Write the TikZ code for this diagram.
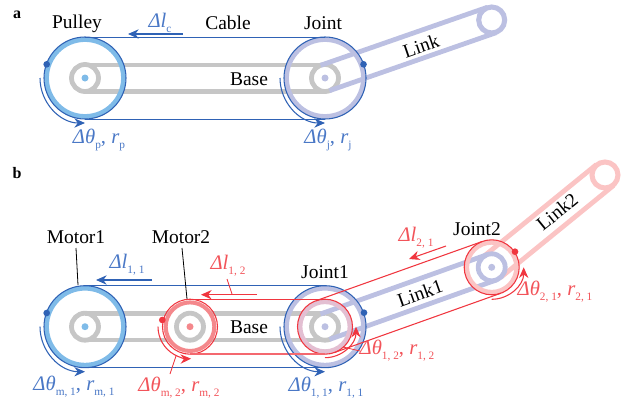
\documentclass[tikz,border=0pt]{standalone}
\usepackage{fontspec}
\setmainfont{Liberation Serif}
\usetikzlibrary{calc,arrows.meta}
\definecolor{cblue}{HTML}{2F62B5}
\definecolor{tblue}{HTML}{4A78C6}
\definecolor{lblue}{HTML}{7FBBE8}
\definecolor{lilac}{HTML}{BCC0E2}
\definecolor{gre}{HTML}{C6C6C6}
\definecolor{cred}{HTML}{F0363F}
\definecolor{tred}{HTML}{F2545A}
\definecolor{lred}{HTML}{F4888C}
\definecolor{pinkl}{HTML}{FBC4C4}
\definecolor{mauve}{HTML}{E3BFD2}
\newcommand{\lowtxt}[1]{\raisebox{-0.5ex}{\fontsize{8.5}{10}\selectfont #1}}
\newcommand{\dtheta}{\textit{Δθ}}
\newcommand{\dell}{\textit{Δl}}
\tikzset{
 x=0.75pt,y=-0.75pt,
 lab/.style={font=\fontsize{14.6}{16}\selectfont,inner sep=0pt,text=black},
 tb/.style={font=\fontsize{15.5}{17}\selectfont,inner sep=0pt,text=tblue},
 tr/.style={font=\fontsize{15.5}{17}\selectfont,inner sep=0pt,text=tred},
 panel/.style={font=\fontsize{12}{14}\selectfont\bfseries,inner sep=0pt},
 rail/.style={line width=3.6pt,gre},
 lrail/.style={line width=3.6pt,lilac},
 prail/.style={line width=3.6pt,pinkl},
 bcab/.style={line width=0.8pt,cblue},
 rcab/.style={line width=0.8pt,cred},
 barrow/.style={line width=0.8pt,cblue,-{Stealth[length=8pt,width=7pt]}},
 rarrow/.style={line width=0.8pt,cred,-{Stealth[length=8pt,width=7pt]}},
 leader/.style={line width=0.6pt,black},
 bdot/.style={circle,fill=cblue,inner sep=0pt,minimum size=5pt},
 rdot/.style={circle,fill=cred,inner sep=0pt,minimum size=5pt},
}
\begin{document}
\begin{tikzpicture}
\useasboundingbox (0,0) rectangle (624,407);
% ---------- panel a
\coordinate (P) at (85,78);
\coordinate (J) at (325,78);
\coordinate (E) at (491.7,20);
\draw[rail] (85,65) -- (325,65) (85,91.5) -- (325,91.5);
\draw[rail] (P) circle (13.5);
\draw[rail] (J) circle (13.5);
\fill[lblue] (P) circle (3.5);
\fill[lilac] (J) circle (3.5);
\draw[lrail] ($(J)+(-4.4,-12.7)$) -- ($(E)+(-4.4,-12.7)$);
\draw[lrail] ($(J)+(4.4,12.7)$) -- ($(E)+(4.4,12.7)$);
\draw[line width=3.8pt,lilac,fill=white] (E) circle (13);
\draw[line width=3.6pt,lblue] (P) circle (38.5);
\draw[line width=3.6pt,lilac] (J) circle (38.5);
\draw[bcab] (85,37.5) -- (325,37.5);
\draw[bcab] (P) circle (41);
\draw[bcab] (J) circle (41);
\draw[bcab] (85,119.5) -- (325,119.5);
\node[bdot] (pd) at (46.7,64.3) {};
\node[bdot] (jd) at (363.5,64.3) {};
\draw[barrow] ($(P)+(180:45)$) arc (180:90:45);
\draw[barrow] ($(J)+(180:45)$) arc (180:90:45);
\coordinate (a1) at (183,34);
\coordinate (a2) at (128,34);
\draw[barrow] (a1) -- (a2);
\node[panel] (pa) at (17,15) {a};
\node[lab] (tPulley) at (77,24) {Pulley};
\node[lab] (tCable) at (228,23) {Cable};
\node[lab] (tJoint) at (323,23) {Joint};
\node[lab] (tBase) at (249,79) {Base};
\node[lab,rotate=19] (tLink) at (421,46) {Link};
\node[tb] (tdlc) at (160,23) {\dell\lowtxt{c}};
\node[tb] (tdp) at (99,140) {\dtheta\lowtxt{p}, \textit{r}\lowtxt{p}};
\node[tb] (tdj) at (328,140) {\dtheta\lowtxt{j}, \textit{r}\lowtxt{j}};
% ---------- panel b
\coordinate (M1) at (85,326.7);
\coordinate (M2) at (190,326.7);
\coordinate (J1) at (325,326.7);
\coordinate (J2) at (491.7,267.3);
\coordinate (E2) at (605,175);
\draw[rail] (85,313.5) -- (325,313.5) (85,340) -- (325,340);
\draw[rail] (M1) circle (13.5);
\draw[rail] (J1) circle (13.5);
\fill[lblue] (M1) circle (3.5);
\fill[lilac] (J1) circle (3.5);
\fill[white] (M2) circle (25);
\draw[rail] (M2) circle (13.5);
\fill[lred] (M2) circle (3.5);
% link 2
\draw[prail] ($(J2)+(-8.5,-10.5)$) -- ($(E2)+(-8.5,-10.5)$);
\draw[prail] ($(J2)+(8.5,10.5)$) -- ($(E2)+(8.5,10.5)$);
\draw[line width=3.8pt,pinkl,fill=white] (E2) circle (13);
% link 1
\draw[lrail] ($(J1)+(-4.5,-12.7)$) -- ($(J2)+(-4.5,-12.7)$);
\draw[lrail] ($(J1)+(4.5,12.7)$) -- ($(J2)+(4.5,12.7)$);
\draw[lrail] (J2) circle (13.5);
\fill[lilac] (J2) circle (3.5);
\draw[line width=3.6pt,lblue] (M1) circle (38.5);
\draw[line width=3.6pt,lilac] (J1) circle (38.5);
\draw[line width=3.6pt,mauve] (J1) circle (25);
\draw[line width=3pt,lred] (M2) circle (24.3);
\draw[line width=3.6pt,pinkl] (J2) circle (25);
% cables
\draw[bcab] (M1) circle (41);
\draw[bcab] (J1) circle (41);
\draw[bcab] (85,285.5) -- (325,285.5);
\draw[bcab] (85,367.7) -- (325,367.7);
\draw[rcab] (M2) circle (27.5);
\draw[rcab] (J1) circle (27.5);
\draw[rcab] (J2) circle (27.5);
\draw[rcab] (190,299.2) -- (325,299.2);
\draw[line width=1.2pt,cred!75] (190,354.2) -- (325,354.2);
\draw[rcab] ($(J1)+(-9.2,-25.9)$) -- ($(J2)+(-9.2,-25.9)$);
\draw[rcab] ($(J1)+(9.2,25.9)$) -- ($(J2)+(9.2,25.9)$);
\node[bdot] (m1d) at (46.7,313) {};
\node[bdot] (j1d) at (364,312.7) {};
\node[rdot] (m2d) at (162.3,320) {};
\node[rdot] (j2d) at (515,251.7) {};
% rotation arrows
\draw[barrow] ($(M1)+(180:45)$) arc (180:90:45);
\draw[barrow] ($(J1)+(180:45)$) arc (180:90:45);
\draw[rarrow] ($(M2)+(180:32)$) arc (180:88:32);
\draw[rarrow] ($(J1)+(90:31)$) arc (90:0:31);
\draw[rarrow] ($(J2)+(90:32)$) arc (90:0:32);
% length arrows
\coordinate (b1) at (152,280);
\coordinate (b2) at (96,280);
\draw[barrow] (b1) -- (b2);
\coordinate (c1) at (257,294.7);
\coordinate (c2) at (201,294.7);
\draw[rarrow] (c1) -- (c2);
\coordinate (d1) at (446,246);
\coordinate (d2) at (409,259);
\draw[rarrow] (d1) -- (d2);
% labels
\node[panel] (pb) at (17,173) {b};
\node[lab] (tM1) at (76,237) {Motor1};
\node[lab] (tM2) at (181,237) {Motor2};
\node[lab] (tJ1) at (325,272) {Joint1};
\node[lab] (tJ2) at (477,229) {Joint2};
\node[lab] (tB2) at (249,327) {Base};
\node[lab,rotate=19.6] (tL1) at (420,293) {Link1};
\node[lab,rotate=39] (tL2) at (557,212) {Link2};
\node[tb] (tl11) at (127,265) {\dell\lowtxt{1, 1}};
\node[tr] (tl12) at (228,266) {\dell\lowtxt{1, 2}};
\node[tr] (tl21) at (416,238) {\dell\lowtxt{2, 1}};
\node[tb] (tm1) at (74,387) {\dtheta\lowtxt{m, 1}, \textit{r}\lowtxt{m, 1}};
\node[tr] (tm2) at (179,388) {\dtheta\lowtxt{m, 2}, \textit{r}\lowtxt{m, 2}};
\node[tb] (tt11) at (326,388) {\dtheta\lowtxt{1, 1}, \textit{r}\lowtxt{1, 1}};
\node[tr] (tt12) at (397,351) {\dtheta\lowtxt{1, 2}, \textit{r}\lowtxt{1, 2}};
\node[tr] (tt21) at (555,292) {\dtheta\lowtxt{2, 1}, \textit{r}\lowtxt{2, 1}};
% leaders
\coordinate (lm1) at (78,285);
\coordinate (lm2) at (187,299);
\draw[leader] (76,248) -- (lm1);
\draw[leader] (182,248) -- (lm2);
\draw[line width=0.6pt,cred] (227,279) -- (232,294);
\draw[line width=0.6pt,cred] (170,374) -- (176,356);
\draw[line width=0.6pt,cred] (360,351) -- (343,347);
\end{tikzpicture}
\end{document}
